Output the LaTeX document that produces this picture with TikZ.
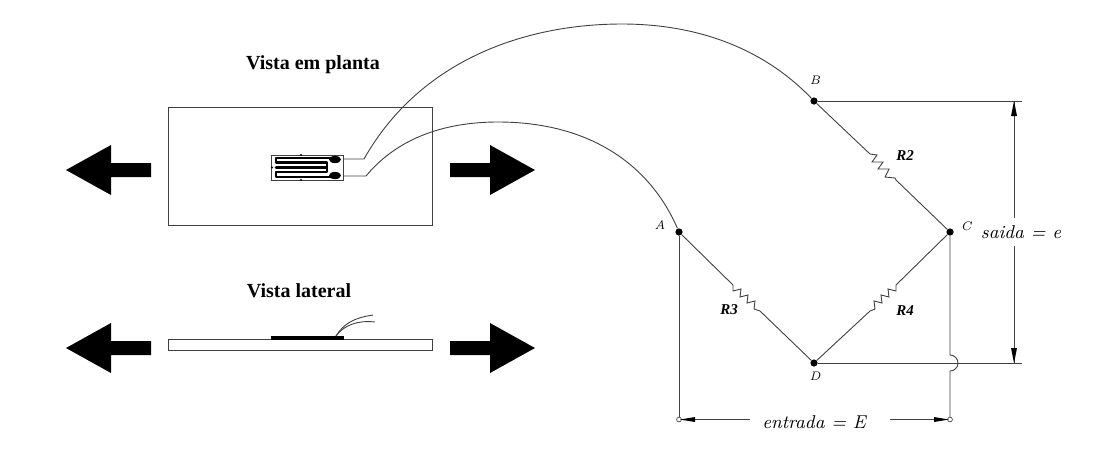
\documentclass[tikz,border=0pt]{standalone}
\usepackage{fontspec}
\newfontfamily\titfont{Liberation Serif}
\usepackage{tikz}
\tikzset{
  fio/.style={draw=black!75,line width=0.45pt},
  ponto/.style={circle,fill=black,inner sep=0pt,minimum size=3.6pt},
  furo/.style={circle,draw=black!70,fill=white,line width=0.35pt,inner sep=0pt,minimum size=2.4pt},
  seta/.style={fill=black},
  titulo/.style={font=\titfont\bfseries\fontsize{10}{12}\selectfont},
  letra/.style={font=\itshape\fontsize{6.2}{7}\selectfont},
  resist/.style={font=\titfont\bfseries\itshape\fontsize{7.5}{9}\selectfont},
  cota/.style={font=\itshape\fontsize{9.3}{11}\selectfont},
}
\begin{document}
\begin{tikzpicture}[x=0.5pt,y=-0.5pt]
  \useasboundingbox (0,0) rectangle (1108,457);
  % vista em planta
  \node[titulo] (planta) at (313,65) {Vista em planta};
  \draw[fio] (168.5,107) rectangle (432,225);
  \draw[fio] (271,155) rectangle (343,180);
  % grade do extensometro
  \draw[black,line width=1.4pt,line cap=round,line join=round]
    (335,158) -- (276,158) -- (276,162.5) -- (327,162.5) -- (327,167.5) -- (276,167.5)
    (327,167.5) -- (327,172) -- (276,172) -- (276,177) -- (335,177);
  \fill[black] (335,159.5) ellipse [x radius=6,y radius=3.6];
  \fill[black] (335,175.5) ellipse [x radius=6,y radius=3.6];
  \fill[black] (301,155) circle [radius=1.2] (301,180) circle [radius=1.2] (272,167.5) circle [radius=1.2];
  % bornes da ponte
  \node[ponto] (A) at (679,232) {};
  \node[ponto] (B) at (814,101) {};
  \node[ponto] (C) at (950,232) {};
  \node[ponto] (D) at (814,363) {};
  \node[furo] (AA) at (679,419.5) {};
  \node[furo] (CC) at (950,419.5) {};
  \node[letra] at (660,225) {A};
  \node[letra] at (815,80) {B};
  \node[letra] at (966,226) {C};
  \node[letra] at (815,376) {D};
  % fios ate a ponte
  \coordinate (g1) at (343,159);
  \coordinate (g2) at (343,176);
  \draw[fio] (g1) -- (364,159) .. controls (420,60) and (525,24) .. (622,24)
    .. controls (700,24) and (765,50) .. (B);
  \draw[fio] (g2) -- (366,176) .. controls (400,135) and (450,122) .. (498,122)
    .. controls (590,122) and (650,165) .. (A);
  % resistores
  \draw[fio] (B) -- (870,154) -- (877,155) -- (872,162) -- (883,162) -- (878,169) -- (889,169) -- (885,177) -- (895,178) -- (896,180) -- (C);
  \draw[fio] (C) -- (896,285) -- (896,291) -- (888,289) -- (889,297) -- (881,295) -- (882,303) -- (874,301) -- (875,309) -- (870,311) -- (D);
  \draw[fio] (A) -- (733,285) -- (733,291) -- (741,289) -- (740,297) -- (748,295) -- (747,303) -- (755,301) -- (754,309) -- (760,311) -- (D);
  \node[resist] at (905,156) {R2};
  \node[resist] at (729,310) {R3};
  \node[resist] at (905,311) {R4};
  % ligacoes e cotas
  \coordinate (b1) at (1022,101);
  \coordinate (d1) at (1022,363);
  \draw[fio] (B) -- (b1);
  \draw[fio] (D) -- (d1);
  \draw[fio] (A) -- (AA);
  \draw[fio] (C) -- (950,355) arc [start angle=-90,end angle=90,radius=8] -- (CC);
  \node[cota] (saida) at (1021,232) {saida = e};
  \node[cota] (entrada) at (814,422) {entrada = E};
  \coordinate (s1) at (1014,101);
  \coordinate (s2) at (1014,363);
  \coordinate (s3) at (1014,218);
  \coordinate (s4) at (1014,246);
  \draw[fio] (s1) -- (s3) (s4) -- (s2);
  \fill[black] (s1) -- (1011,116) -- (1017,116) -- cycle;
  \fill[black] (s2) -- (1011,348) -- (1017,348) -- cycle;
  \coordinate (e1) at (750,419.5);
  \coordinate (e2) at (890,419.5);
  \draw[fio] (AA) -- (e1) (e2) -- (CC);
  \fill[black] (680,419.5) -- (695,417) -- (695,422) -- cycle;
  \fill[black] (949,419.5) -- (934,417) -- (934,422) -- cycle;
  % vista lateral
  \node[titulo] (lateral) at (299,291) {Vista lateral};
  \draw[fio] (168.5,339) rectangle (432,350);
  \fill[black] (271,336) rectangle (344,340);
  \draw[fio] (336,336) .. controls (343,325) and (352,318) .. (373,315);
  \draw[fio] (336,336) .. controls (344,325) and (358,320) .. (375,322);
  % setas de tracao
  \foreach \yc in {170,348} {
    \fill[seta] (66,\yc) -- (111,\yc-25) -- (111,\yc-7) -- (151,\yc-7) -- (151,\yc+7) -- (111,\yc+7) -- (111,\yc+25) -- cycle;
    \fill[seta] (535,\yc) -- (490,\yc-25) -- (490,\yc-7) -- (450,\yc-7) -- (450,\yc+7) -- (490,\yc+7) -- (490,\yc+25) -- cycle;
  }
\end{tikzpicture}
\end{document}
